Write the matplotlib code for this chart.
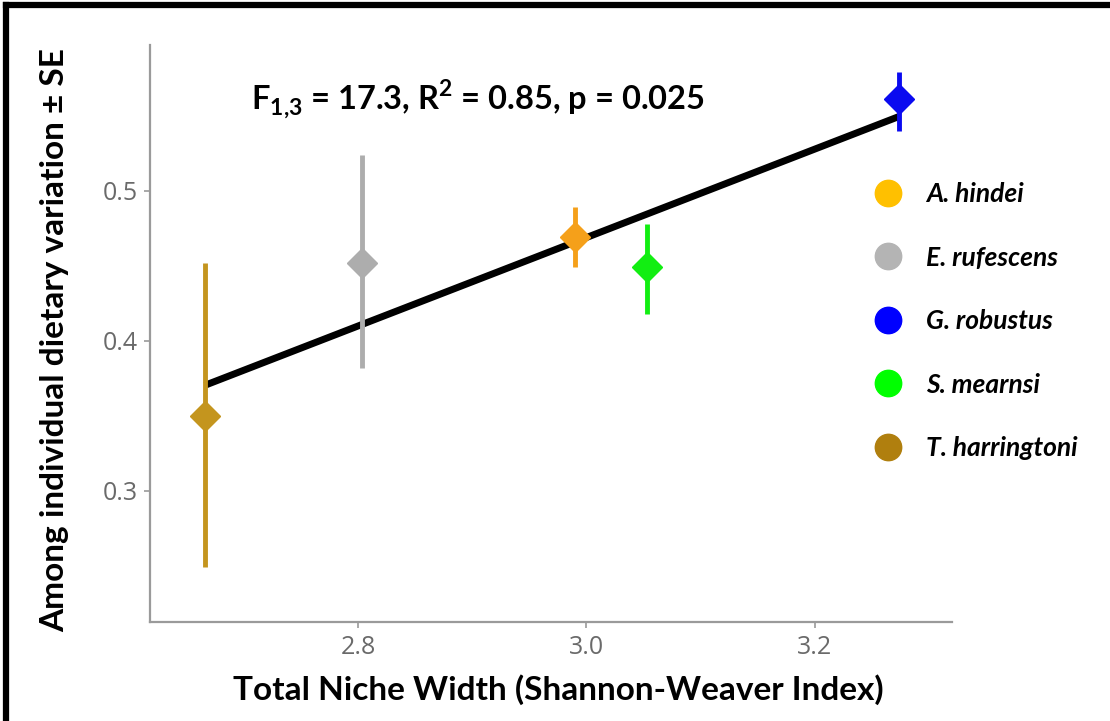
import numpy as np
import matplotlib
matplotlib.use("Agg")
import matplotlib.pyplot as plt
from matplotlib.lines import Line2D

# species, niche width (x), among-individual variation (y) and SE
species = ["A. hindei", "E. rufescens", "G. robustus", "S. mearnsi", "T. harringtoni"]
niche_width = [2.990, 2.804, 3.274, 3.053, 2.666]
variation = [0.469, 0.452, 0.561, 0.449, 0.350]
se_low = [0.020, 0.070, 0.021, 0.031, 0.101]
se_high = [0.020, 0.072, 0.018, 0.029, 0.102]
point_colors = ["#F5A01A", "#ADADAD", "#0A0AF0", "#12EE12", "#C4951E"]
legend_colors = ["#FFC000", "#B4B4B4", "#0000FF", "#00FF00", "#B07F0E"]

plt.rcParams["font.family"] = ["Lato", "DejaVu Sans"]
plt.rcParams["mathtext.fontset"] = "custom"
plt.rcParams["mathtext.rm"] = "Lato:bold"
plt.rcParams["mathtext.bf"] = "Lato:bold"

fig = plt.figure(figsize=(11.1, 7.21), dpi=100)
ax = fig.add_axes([150 / 1110, 1 - 622 / 721, (952 - 150) / 1110, (622 - 45) / 721])

# regression line
slope, icpt = np.polyfit(niche_width, variation, 1)
xs = np.array([min(niche_width), max(niche_width)])
ax.plot(xs, slope * xs + icpt, color="black", lw=5, zorder=3, solid_capstyle="butt")

for x, y, lo, hi, c in zip(niche_width, variation, se_low, se_high, point_colors):
    ax.errorbar(x, y, yerr=[[lo], [hi]], fmt="D", color=c, ms=15, mec=c,
                elinewidth=3.5, capsize=0, zorder=4)

ax.set_xlim(2.618, 3.320)
ax.set_ylim(0.2127, 0.597)
ax.set_xticks([2.8, 3.0, 3.2])
ax.set_yticks([0.3, 0.4, 0.5])
ax.set_xticklabels(["2.8", "3.0", "3.2"])
ax.set_yticklabels(["0.3", "0.4", "0.5"])
for s in ["top", "right"]:
    ax.spines[s].set_visible(False)
for s in ["left", "bottom"]:
    ax.spines[s].set_color("#9A9A9A")
    ax.spines[s].set_linewidth(1.6)
ax.tick_params(colors="#9A9A9A", labelcolor="#6A6A6A", labelsize=18, length=4, width=1.2,
               pad=5)
for lab in ax.get_xticklabels() + ax.get_yticklabels():
    lab.set_family(["Open Sans", "DejaVu Sans"])

fig.text(558 / 1110, 1 - 690 / 721, "Total Niche Width (Shannon-Weaver Index)",
         ha="center", va="center", fontsize=24, fontweight="bold")
fig.text(55 / 1110, 1 - 340 / 721, "Among individual dietary variation ± SE",
         ha="center", va="center", rotation=90, fontsize=24, fontweight="bold")

ax.text(0.126, 0.905, r"F$_{1{,}3}$ = 17.3, R$^{2}$ = 0.85, p = 0.025", transform=ax.transAxes,
        ha="left", va="center", fontsize=23.5, fontweight="bold")

handles = [Line2D([], [], ls="", marker="o", ms=19, color=c) for c in legend_colors]
leg = ax.legend(handles, species, loc="upper left", bbox_to_anchor=(0.874, 0.781),
                frameon=False, handletextpad=0.45, labelspacing=1.5,
                prop={"size": 19, "weight": "bold", "style": "italic"}, borderaxespad=0)
leg.set_clip_on(False)

# frame lines from the cropped figure
fig.add_artist(Line2D([6 / 1110, 6 / 1110], [0, 1 - 5 / 721], color="black", lw=4.5))
fig.add_artist(Line2D([6 / 1110, 1], [1 - 5 / 721, 1 - 5 / 721], color="black", lw=4.5))

fig.savefig("out.png", dpi=100)
